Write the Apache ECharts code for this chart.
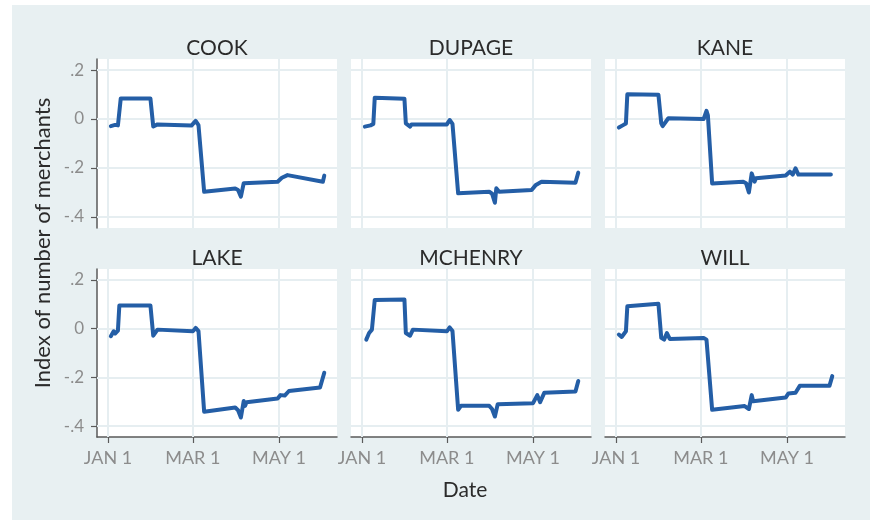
<!DOCTYPE html>
<html><head><meta charset="utf-8">
<script src="https://cdn.jsdelivr.net/npm/echarts@6/dist/echarts.min.js"></script>
<style>html,body{margin:0;padding:0;background:#fff}#c{width:870px;height:520px}</style>
</head><body><div id="c"></div>
<script>
const counties = ['COOK', 'DUPAGE', 'KANE', 'LAKE', 'MCHENRY', 'WILL'];

const cook = [
  ['2020-01-03', -0.029], ['2020-01-06', -0.024], ['2020-01-08', -0.026], ['2020-01-09', -0.020],
  ['2020-01-10', 0.084], ['2020-01-31', 0.084], ['2020-02-02', -0.031], ['2020-02-05', -0.022],
  ['2020-02-06', -0.028], ['2020-02-29', -0.027], ['2020-03-03', -0.008], ['2020-03-05', -0.025],
  ['2020-03-09', -0.297], ['2020-03-31', -0.284], ['2020-04-02', -0.290], ['2020-04-04', -0.317],
  ['2020-04-06', -0.262], ['2020-04-30', -0.256], ['2020-05-03', -0.240], ['2020-05-07', -0.229],
  ['2020-06-01', -0.256], ['2020-06-02', -0.231]
];
const dupage = [
  ['2020-01-03', -0.031], ['2020-01-07', -0.026], ['2020-01-09', -0.020], ['2020-01-10', 0.087],
  ['2020-01-31', 0.083], ['2020-02-01', -0.018], ['2020-02-04', -0.031], ['2020-02-05', -0.022],
  ['2020-03-01', -0.022], ['2020-03-03', -0.004], ['2020-03-05', -0.020], ['2020-03-09', -0.303],
  ['2020-03-31', -0.297], ['2020-04-02', -0.305], ['2020-04-04', -0.342], ['2020-04-05', -0.283],
  ['2020-04-07', -0.297], ['2020-04-30', -0.290], ['2020-05-03', -0.269], ['2020-05-04', -0.275],
  ['2020-05-07', -0.256], ['2020-05-31', -0.260], ['2020-06-02', -0.219]
];
const kane = [
  ['2020-01-03', -0.035], ['2020-01-06', -0.025], ['2020-01-08', -0.018], ['2020-01-09', 0.101],
  ['2020-01-31', 0.099], ['2020-02-02', -0.018], ['2020-02-03', -0.029], ['2020-02-07', 0.003],
  ['2020-02-08', 0.000], ['2020-03-03', 0.000], ['2020-03-05', 0.033], ['2020-03-06', 0.015],
  ['2020-03-09', -0.263], ['2020-03-31', -0.256], ['2020-04-02', -0.262], ['2020-04-04', -0.300],
  ['2020-04-06', -0.222], ['2020-04-08', -0.256], ['2020-04-09', -0.242], ['2020-04-30', -0.231],
  ['2020-05-03', -0.215], ['2020-05-05', -0.227], ['2020-05-07', -0.201], ['2020-05-09', -0.227],
  ['2020-06-01', -0.227]
];
const lake = [
  ['2020-01-03', -0.031], ['2020-01-05', -0.011], ['2020-01-06', -0.020], ['2020-01-08', -0.008],
  ['2020-01-09', 0.095], ['2020-01-31', 0.095], ['2020-02-02', -0.029], ['2020-02-05', -0.004],
  ['2020-02-06', -0.011], ['2020-03-01', -0.011], ['2020-03-03', 0.003], ['2020-03-05', -0.010],
  ['2020-03-09', -0.341], ['2020-03-31', -0.324], ['2020-04-02', -0.335], ['2020-04-04', -0.365],
  ['2020-04-06', -0.297], ['2020-04-07', -0.317], ['2020-04-08', -0.302], ['2020-04-30', -0.287],
  ['2020-05-02', -0.273], ['2020-05-05', -0.275], ['2020-05-08', -0.256], ['2020-05-30', -0.242],
  ['2020-06-02', -0.181]
];
const mchenry = [
  ['2020-01-04', -0.045], ['2020-01-06', -0.018], ['2020-01-08', -0.004], ['2020-01-10', 0.118],
  ['2020-01-31', 0.120], ['2020-02-01', -0.018], ['2020-02-04', -0.029], ['2020-02-06', -0.004],
  ['2020-02-07', -0.011], ['2020-03-01', -0.011], ['2020-03-03', 0.005], ['2020-03-05', -0.010],
  ['2020-03-09', -0.333], ['2020-03-11', -0.317], ['2020-03-31', -0.317], ['2020-04-02', -0.330],
  ['2020-04-04', -0.361], ['2020-04-06', -0.310], ['2020-04-07', -0.306], ['2020-05-01', -0.306],
  ['2020-05-04', -0.273], ['2020-05-06', -0.302], ['2020-05-09', -0.263], ['2020-05-31', -0.258],
  ['2020-06-02', -0.215]
];
const will = [
  ['2020-01-03', -0.024], ['2020-01-05', -0.034], ['2020-01-08', -0.011], ['2020-01-09', 0.092],
  ['2020-01-31', 0.102], ['2020-02-02', -0.038], ['2020-02-04', -0.045], ['2020-02-06', -0.018],
  ['2020-02-08', -0.042], ['2020-03-03', -0.038], ['2020-03-04', -0.034], ['2020-03-05', -0.045],
  ['2020-03-09', -0.333], ['2020-04-01', -0.318], ['2020-04-04', -0.330], ['2020-04-06', -0.273],
  ['2020-04-07', -0.298], ['2020-04-08', -0.290], ['2020-04-30', -0.283], ['2020-05-02', -0.266],
  ['2020-05-07', -0.263], ['2020-05-10', -0.235], ['2020-05-31', -0.235], ['2020-06-02', -0.195]
];
const seriesData = [cook, dupage, kane, lake, mchenry, will];

const yTickValues = [-0.4, -0.2, 0, 0.2];
const yTickLabels = ['-.4', '-.2', '0', '.2'];
const xTickDates = ['2020-01-01', '2020-03-01', '2020-05-01'];
const xTickLabels = ['JAN 1', 'MAR 1', 'MAY 1'];

const DAY = 86400000;
function ts(s) { const p = s.split('-').map(Number); return Date.UTC(p[0], p[1] - 1, p[2]); }
const xTickTs = xTickDates.map(ts);
const xMin = ts('2020-01-01') - 7.8 * DAY;
const xMax = ts('2020-01-01') + 162 * DAY;
const yMin = -0.445, yMax = 0.245;

const BG = '#e8f0f2';
const GRIDC = '#e6eef1';
const LINE = '#245ea6';
const AX = '#5a5a5a';
const LBL = '#8c8c8c';
const FONT = 'Lato, "Open Sans", sans-serif';

const grids = [], xAxes = [], yAxes = [], series = [], graphics = [];
graphics.push({ type: 'rect', z: -10, silent: true, shape: { x: 12, y: 5, width: 858, height: 515 }, style: { fill: BG } });

counties.forEach((name, i) => {
  const col = i % 3, row = Math.floor(i / 3);
  const left = 97 + col * 254;
  const top = row === 0 ? 59 : 269;
  const height = row === 0 ? 169 : 168;
  grids.push({ left: left, top: top, width: 240, height: height, show: true, backgroundColor: '#ffffff', borderWidth: 0, z: 0 });
  const bottomRow = row === 1;
  const leftCol = col === 0;
  xAxes.push({
    type: 'value', gridIndex: i, min: xMin, max: xMax,
    axisLine: { show: bottomRow, onZero: false, lineStyle: { color: AX, width: 1.5 } },
    axisTick: { show: bottomRow, customValues: xTickTs, length: 6, lineStyle: { color: AX, width: 1.2 } },
    axisLabel: {
      show: bottomRow, customValues: xTickTs, margin: 12, color: LBL, fontSize: 18, fontFamily: FONT,
      hideOverlap: false,
      formatter: function (v) {
        for (let k = 0; k < xTickTs.length; k++) if (Math.abs(v - xTickTs[k]) < DAY / 2) return xTickLabels[k];
        return '';
      }
    },
    splitLine: { show: false }
  });
  yAxes.push({
    type: 'value', gridIndex: i, min: yMin, max: yMax,
    axisLine: { show: leftCol, lineStyle: { color: AX, width: 1.5 } },
    axisTick: { show: leftCol, customValues: yTickValues, length: 6, lineStyle: { color: AX, width: 1.2 } },
    axisLabel: {
      show: leftCol, customValues: yTickValues, margin: 13, color: LBL, fontSize: 17, fontFamily: FONT,
      formatter: function (v) {
        for (let k = 0; k < yTickValues.length; k++) if (Math.abs(v - yTickValues[k]) < 1e-6) return yTickLabels[k];
        return '';
      }
    },
    splitLine: { show: false }
  });
  const gridLines = yTickValues.map(v => ({ yAxis: v })).concat(xTickTs.map(t => ({ xAxis: t })));
  series.push({
    type: 'line', name: name, xAxisIndex: i, yAxisIndex: i,
    data: seriesData[i].map(d => [ts(d[0]), d[1]]),
    showSymbol: false, symbol: 'none', z: 3,
    lineStyle: { color: LINE, width: 4, cap: 'round', join: 'round' },
    itemStyle: { color: LINE },
    animation: false,
    markLine: {
      silent: true, symbol: 'none', z: 1, animation: false,
      label: { show: false },
      lineStyle: { color: GRIDC, width: 2, type: 'solid' },
      emphasis: { disabled: true },
      data: gridLines
    }
  });
  graphics.push({
    type: 'text', z: 10, x: left + 120, y: row === 0 ? 48 : 258,
    style: { text: name, fill: '#2b2b2b', font: '21px ' + FONT, textAlign: 'center', textVerticalAlign: 'middle' }
  });
});

graphics.push({
  type: 'text', z: 10, x: 43, y: 243, rotation: Math.PI / 2,
  style: { text: 'Index of number of merchants', fill: '#2b2b2b', font: '22px ' + FONT, textAlign: 'center', textVerticalAlign: 'middle' }
});
graphics.push({
  type: 'text', z: 10, x: 465, y: 490,
  style: { text: 'Date', fill: '#2b2b2b', font: '21px ' + FONT, textAlign: 'center', textVerticalAlign: 'middle' }
});

const chart = echarts.init(document.getElementById('c'), null, { renderer: 'canvas' });
chart.setOption({
  animation: false,
  backgroundColor: '#ffffff',
  grid: grids, xAxis: xAxes, yAxis: yAxes, series: series,
  graphic: graphics
});
</script></body></html>
